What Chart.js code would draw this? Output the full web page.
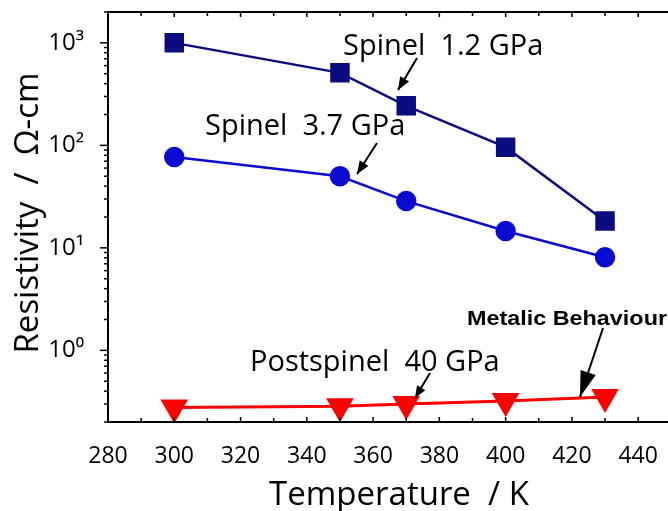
<!DOCTYPE html>
<html>
<head>
<meta charset="utf-8">
<script src="https://cdn.jsdelivr.net/npm/chart.js@4/dist/chart.umd.min.js"></script>
<style>
  html, body { margin: 0; padding: 0; background: #fff; }
  #wrap { width: 668px; height: 511px; }
</style>
</head>
<body>
<div id="wrap"><canvas id="c" width="668" height="511"></canvas></div>
<script>
// temperatures (K)
const temps = [300, 350, 370, 400, 430];
// resistivity (ohm-cm)
const spinel12 = [1000, 510, 243, 96, 18.3];
const spinel37 = [77, 50, 28.6, 14.6, 8.1];
const postspinel40 = [0.277, 0.285, 0.30, 0.32, 0.35];

const xTickLabels = [280, 300, 320, 340, 360, 380, 400, 420, 440];
const yDecades = [1, 10, 100, 1000];
const supers = { 0: '\u2070', 1: '\u00b9', 2: '\u00b2', 3: '\u00b3' };

const FONT = "'Open Sans', 'Noto Sans', sans-serif";

const pts = arr => temps.map((t, i) => ({ x: t, y: arr[i] }));

// tick marks, top frame line, axis titles and the text annotations
const decor = {
    id: 'decor',
    afterDraw(chart) {
        const ctx = chart.ctx;
        const xs = chart.scales.x, ys = chart.scales.y;
        const a = chart.chartArea;
        ctx.save();
        ctx.strokeStyle = '#000';
        ctx.lineWidth = 2;
        ctx.beginPath();
        ctx.moveTo(a.left, a.top);
        ctx.lineTo(a.right, a.top);
        ctx.stroke();
        // x ticks every 10 K, bottom and top, pointing inside
        ctx.lineWidth = 1.5;
        for (let t = 280; t <= 445; t += 10) {
            const px = xs.getPixelForValue(t);
            const len = t % 20 === 0 ? 5 : 4;
            ctx.beginPath();
            ctx.moveTo(px, a.bottom);
            ctx.lineTo(px, a.bottom - len);
            ctx.moveTo(px, a.top);
            ctx.lineTo(px, a.top + len);
            ctx.stroke();
        }
        // y ticks: decades long, mantissas short, outside
        for (let d = 0.1; d <= 1000; d *= 10) {
            for (let m = 1; m <= 9; m++) {
                const v = d * m;
                if (v < ys.min || v > ys.max) continue;
                const py = ys.getPixelForValue(v);
                ctx.beginPath();
                ctx.moveTo(a.left, py);
                ctx.lineTo(a.left - (m === 1 ? 8 : 4), py);
                ctx.stroke();
            }
        }
        ctx.fillStyle = '#000';
        // axis titles
        ctx.font = '33px ' + FONT;
        ctx.textAlign = 'center';
        ctx.textBaseline = 'alphabetic';
        ctx.fillText('Temperature  / K', 399, 505);
        ctx.save();
        ctx.translate(38, 213);
        ctx.rotate(-Math.PI / 2);
        ctx.fillText('Resistivity  /  \u03a9-cm', 0, 0);
        ctx.restore();
        // annotations
        ctx.textAlign = 'left';
        ctx.font = '29px ' + FONT;
        ctx.fillText('Spinel  1.2 GPa', 343, 55);
        ctx.fillText('Spinel  3.7 GPa', 205, 135);
        ctx.fillText('Postspinel  40 GPa', 250, 371);
        // the bold label is stretched wide in the original
        ctx.font = 'bold 21px Arial, "Liberation Sans", sans-serif';
        const lbl = 'Metalic Behaviour';
        const w = ctx.measureText(lbl).width;
        ctx.save();
        ctx.translate(467, 325);
        ctx.scale(200 / w, 1);
        ctx.fillText(lbl, 0, 0);
        ctx.restore();
        const arrow = (x1, y1, x2, y2, L, W) => {
            ctx.lineWidth = 2;
            ctx.beginPath();
            ctx.moveTo(x1, y1);
            ctx.lineTo(x2, y2);
            ctx.stroke();
            const ang = Math.atan2(y2 - y1, x2 - x1);
            ctx.beginPath();
            ctx.moveTo(x2, y2);
            ctx.lineTo(x2 - L * Math.cos(ang - W), y2 - L * Math.sin(ang - W));
            ctx.lineTo(x2 - L * Math.cos(ang + W), y2 - L * Math.sin(ang + W));
            ctx.closePath();
            ctx.fill();
        };
        arrow(417, 58, 398, 90, 14, 0.38);
        arrow(377, 143, 357, 174, 14, 0.38);
        arrow(430, 373, 415, 398, 13, 0.38);
        arrow(603, 328, 580, 397, 27, 0.3);
        ctx.restore();
    }
};

new Chart(document.getElementById('c'), {
    type: 'line',
    data: {
        datasets: [{
            label: 'Spinel 1.2 GPa',
            data: pts(spinel12),
            borderColor: '#0b0b80',
            backgroundColor: '#0b0b80',
            borderWidth: 2.5,
            pointStyle: 'rect',
            pointRadius: 12
        }, {
            label: 'Spinel 3.7 GPa',
            data: pts(spinel37),
            borderColor: '#0a0ad2',
            backgroundColor: '#0a0ad2',
            borderWidth: 2.5,
            pointStyle: 'circle',
            pointRadius: 9
        }, {
            label: 'Postspinel 40 GPa',
            data: pts(postspinel40),
            borderColor: '#ff0000',
            backgroundColor: '#ff0000',
            borderWidth: 3,
            pointStyle: 'triangle',
            rotation: 180,
            pointRadius: 13
        }]
    },
    options: {
        responsive: false,
        animation: false,
        layout: { autoPadding: false, padding: { top: 12, right: 0, left: 0, bottom: 0 } },
        plugins: { legend: { display: false }, tooltip: { enabled: false } },
        scales: {
            x: {
                type: 'linear',
                min: 280,
                max: 449,
                grid: { display: false },
                border: { color: '#000', width: 2 },
                ticks: {
                    stepSize: 20,
                    includeBounds: false,
                    color: '#000',
                    padding: 13,
                    maxRotation: 0,
                    font: { family: FONT, size: 23 },
                    callback: v => xTickLabels.includes(v) ? String(v) : ''
                },
                afterFit: s => {
                    s.height = 89;
                    s.paddingLeft = 0;
                    s.paddingRight = 0;
                }
            },
            y: {
                type: 'logarithmic',
                min: 0.2,
                max: 2000,
                grid: { display: false },
                border: { color: '#000', width: 2 },
                ticks: {
                    color: '#000',
                    padding: 16,
                    autoSkip: false,
                    font: { family: FONT, size: 24 },
                    callback: v => {
                        const e = Math.round(Math.log10(v));
                        return yDecades.includes(v) ? '10' + supers[e] : '';
                    }
                },
                afterFit: s => {
                    s.width = 108;
                    s.paddingTop = 0;
                    s.paddingBottom = 0;
                }
            }
        }
    },
    plugins: [decor]
});
</script>
</body>
</html>
